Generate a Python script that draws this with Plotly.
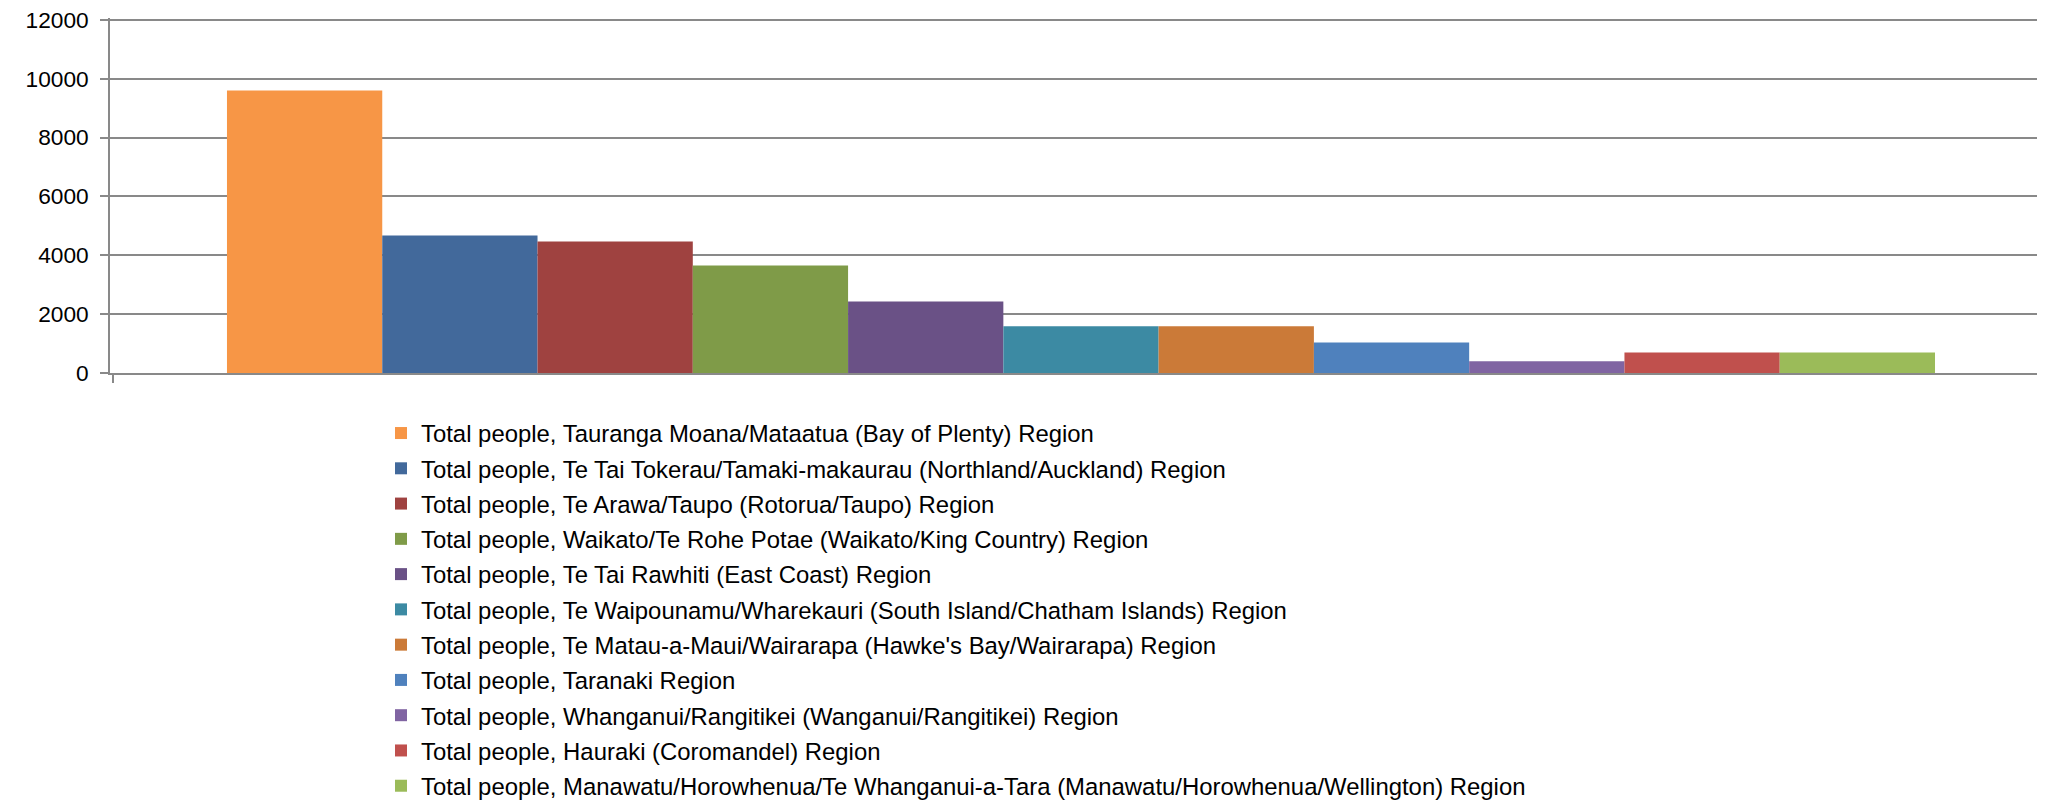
import plotly.graph_objects as go

regions = [
    "Total people, Tauranga Moana/Mataatua (Bay of Plenty) Region",
    "Total people, Te Tai Tokerau/Tamaki-makaurau (Northland/Auckland) Region",
    "Total people, Te Arawa/Taupo (Rotorua/Taupo) Region",
    "Total people, Waikato/Te Rohe Potae (Waikato/King Country) Region",
    "Total people, Te Tai Rawhiti (East Coast) Region",
    "Total people, Te Waipounamu/Wharekauri (South Island/Chatham Islands) Region",
    "Total people, Te Matau-a-Maui/Wairarapa (Hawke's Bay/Wairarapa) Region",
    "Total people, Taranaki Region",
    "Total people, Whanganui/Rangitikei (Wanganui/Rangitikei) Region",
    "Total people, Hauraki (Coromandel) Region",
    "Total people, Manawatu/Horowhenua/Te Whanganui-a-Tara (Manawatu/Horowhenua/Wellington) Region",
]
values = [9600, 4670, 4470, 3655, 2430, 1585, 1585, 1040, 400, 700, 700]
colors = ["#F79646", "#42699B", "#9F4240", "#7F9B48", "#6A5186", "#3C8AA3",
          "#CB7A38", "#4F81BD", "#8064A2", "#C0504D", "#9BBB59"]
category = [""]
y_ticks = [0, 2000, 4000, 6000, 8000, 10000, 12000]

fig = go.Figure()
for i, (name, val, col) in enumerate(zip(regions, values, colors)):
    fig.add_trace(go.Bar(
        x=category, y=[val], name=name,
        marker=dict(color=col, line=dict(width=0)),
        legendgroup=f"g{i}",
    ))

# the page body has an 8px default margin; positions below are in figure pixels
W, H = 2045, 801
fig.update_layout(
    width=W, height=H,
    barmode="group", bargap=0.1173, bargroupgap=0,
    plot_bgcolor="white", paper_bgcolor="white",
    margin=dict(l=102, r=8, t=10.2, b=435.5, autoexpand=False),
    font=dict(family="Liberation Sans, Arial, sans-serif", color="black"),
    showlegend=True,
    legend=dict(
        xref="container", yref="container",
        x=373 / W, y=1 - 403 / H, xanchor="left", yanchor="top",
        font=dict(size=23.9, color="black"),
        tracegroupgap=1.2,
        bgcolor="rgba(0,0,0,0)",
        itemclick=False,
    ),
    xaxis=dict(
        range=[-0.5 - 0.0018, 0.5 - 0.0018],
        showticklabels=False,
        showline=True, linecolor="#898989", linewidth=1.5,
        ticks="outside", ticklen=8, tickcolor="#898989", tickwidth=1.5,
        tickson="boundaries",
        showgrid=False, zeroline=False,
    ),
    yaxis=dict(
        range=[0, 12060],
        tickvals=y_ticks,
        ticktext=[str(v) for v in y_ticks],
        tickfont=dict(size=22.7, color="black"),
        showline=True, linecolor="#898989", linewidth=1.5,
        ticks="outside", ticklen=8, tickcolor="#898989", tickwidth=1.5,
        showgrid=True, gridcolor="#898989", gridwidth=1.5,
        zeroline=False,
        ticklabelstandoff=7,
        ticklabeloverflow="allow",
    ),
)

fig.write_html("out.html")
